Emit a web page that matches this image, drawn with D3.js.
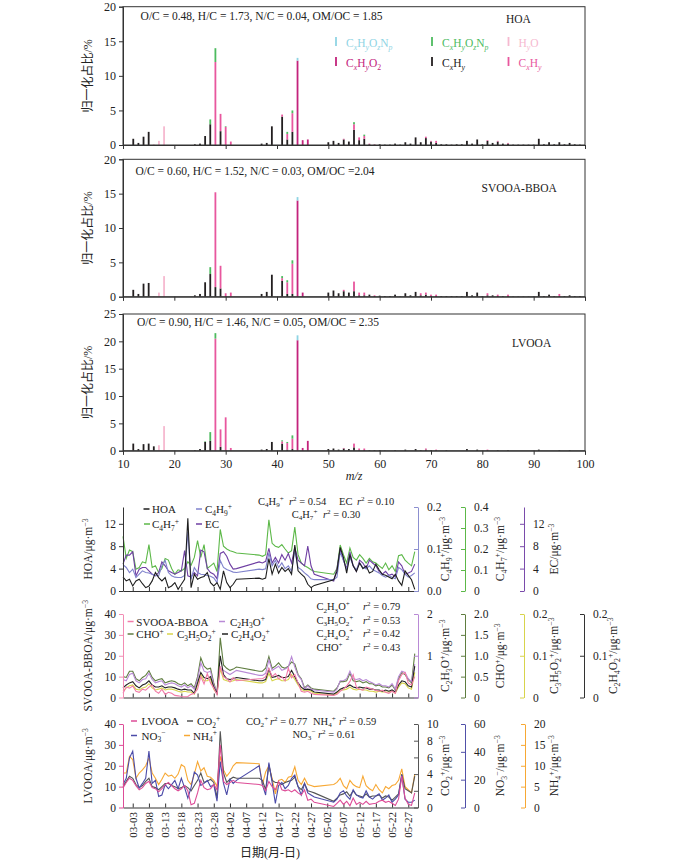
<!DOCTYPE html>
<html><head><meta charset="utf-8">
<script src="https://cdn.jsdelivr.net/npm/d3@7"></script>
<style>
body{margin:0;background:#fff}
svg{display:block;font-family:"Liberation Serif","Times New Roman","Noto Sans CJK SC",serif;}
</style>
</head><body><svg id="c" width="700" height="862"></svg>
<script>
// ---------------- DATA: mass spectra (m/z, CxHy, CxHyO, CxHyO2, HyO, green N family, cyan N family)
const specNames = ["HOA", "SVOOA-BBOA", "LVOOA"];
const specRatios = [
  "O/C = 0.48, H/C = 1.73, N/C = 0.04, OM/OC = 1.85",
  "O/C = 0.60, H/C = 1.52, N/C = 0.03, OM/OC =2.04",
  "O/C = 0.90, H/C = 1.46, N/C = 0.05, OM/OC = 2.35"
];
const specMax = [20, 20, 25];
const specTicks = [[0,5,10,15,20],[0,5,10,15,20],[0,5,10,15,20,25]];
const mzTicks = [10,20,30,40,50,60,70,80,90,100];
const famLabels = ["C_xH_y","C_xH_y","C_xH_yO_2","H_yO","C_xH_yO_zN_p","C_xH_yO_zN_p"];
const hoaSpec = [
 [12,0.9],[13,0.3],[14,1.2],[15,1.9],[16,0,0,0,0.1],[17,0,0,0,0.6],[18,0,0,0,2.7],[24,0.1],[25,0.2],[26,1.3],
 [27,3.0,0,0,0,0.7],[28,0,12.0,0,0,2.0],[29,2.0,2.5],[30,0,2.6,0,0,0.1],[31,0,0.5],[37,0.2],[38,0.3],[39,2.7],
 [41,4.1,0.3],[42,0.8,0.8,0,0,0.3],[43,1.9,2.7,0,0,0.4],[44,0,0,12.2,0,0,0.4],[45,0,0,0.7],[46,0,0,0.8],
 [50,0.4],[51,0.6],[52,0.3],[53,0.8,0.1],[54,0.5],[55,2.2,0.8,0,0,0.3],[56,0.7,0.4],[57,0.9,0.4,0,0,0.2],
 [58,0.1,0.1],[59,0.05,0.05],[60,0.1],[61,0.05],[62,0.05],[63,0.2],[64,0.05],[65,0.4],[66,0.2],[67,1.1],[68,0.4],
 [69,1.0,0.2],[70,0.5,0.1],[71,0.3,0.3],[72,0.1],[73,0.1],[74,0.05],[75,0.1],[76,0.1],[77,0.6],[78,0.2],[79,0.8],
 [80,0.1],[81,0.6,0.1],[82,0.3],[83,0.5,0.1],[84,0.2],[85,0.2,0.1],[86,0.05],[87,0.05],[88,0.05],[89,0.05],[90,0.05],
 [91,0.9],[92,0.1],[93,0.4],[94,0.1],[95,0.4],[96,0.1],[97,0.3],[98,0.1],[99,0.05]
];
const svooaSpec = [
 [12,1.0],[13,0.4],[14,1.9],[15,2.0],[16,0,0,0,0.1],[17,0,0,0,0.6],[18,0,0,0,3.0],[24,0.2],[25,0.4],[26,2.1],
 [27,3.3,0,0,0,1.0],[28,1.4,13.8],[29,1.2,3.3],[30,0,0.5],[31,0,0.6],[37,0.4],[38,0.7],[39,3.2],
 [41,2.3,0.4,0,0,0.3],[42,0.4,1.7,0,0,0.3],[43,0.4,4.4,0,0,0.5],[44,0,0,14.0,0,0,0.5],[45,0,0,0.6],
 [50,0.6],[51,0.9],[52,0.5],[53,0.8,0.2],[54,0.6],[55,0.8,1.4],[56,0.2,0.4],[57,0.2,0.4],[58,0.3],[59,0.1,0.1],
 [60,0.15],[61,0.1],[62,0.1],[63,0.3],[64,0.05],[65,0.5],[66,0.2],[67,0.7],[68,0.2,0.3],[69,0.3,0.3],[70,0.1,0.2],
 [71,0.1,0.2],[72,0.1],[73,0.1],[74,0.1],[75,0.1],[76,0.1],[77,0.7],[78,0.2],[79,0.6],[80,0.1],[81,0.2,0.3],[82,0.2],
 [83,0.1,0.2],[84,0.1],[85,0.1,0.2],[86,0.05],[87,0.05],[88,0.05],[89,0.05],[90,0.05],[91,0.7],[92,0.1],[93,0.3],
 [94,0.1],[95,0.1,0.3],[96,0.1],[97,0.2],[98,0.1],[99,0.1]
];
const lvooaSpec = [
 [12,1.3],[13,0.3],[14,1.2],[15,1.3],[16,0.8],[17,0,0,0,1.0],[18,0,0,0,4.5],[24,0.1],[25,0.3],[26,1.6,0,0,0,0.1],
 [27,1.8,0,0,0,1.6],[28,0,20.5,0,0,1.0],[29,0.7,3.2],[30,0,6.1],[31,0,0.5],[37,0.2],[38,0.3],[39,1.6],
 [41,1.3,0.4,0,0,0.2],[42,0.2,1.2,0,0,0.2],[43,0.3,1.9,0,0,0.6],[44,0,0,20.2,0,0,0.9],[45,0,0,0.5],[46,0,0,1.8],
 [50,0.3],[51,0.4],[52,0.2],[53,0.4,0.1],[54,0.3],[55,0.6,0.7],[56,0.1,0.3],[57,0.1,0.3],[58,0.1],[59,0.1],[60,0.1],
 [61,0.05],[63,0.1],[65,0.2],[67,0.3],[68,0.1],[69,0.2,0.2],[70,0.1],[71,0.1,0.1],[73,0.1],[77,0.3],[79,0.2],
 [81,0.1,0.1],[83,0.1],[85,0.1],[91,0.2],[95,0.1],[97,0.1]
];

// ---------------- DATA: time series
const dates = ["02-28",
 "03-01","03-02","03-03","03-04","03-05","03-06","03-07","03-08","03-09","03-10","03-11","03-12","03-13","03-14","03-15",
 "03-16","03-17","03-18","03-19","03-20","03-21","03-22","03-23","03-24","03-25","03-26","03-27","03-28","03-29","03-30","03-31",
 "04-01","04-02","04-03","04-04",
 "04-11","04-12","04-13","04-14","04-15","04-16","04-17","04-18","04-19","04-20","04-21","04-22","04-23","04-24","04-25","04-26","04-27","04-28",
 "05-04","05-05","05-06","05-07","05-08","05-09","05-10","05-11","05-12","05-13","05-14","05-15","05-16","05-17","05-18","05-19",
 "05-20","05-21","05-22","05-23","05-24","05-25","05-26","05-27","05-28","05-29"];
const dateTicks = ["03-03","03-08","03-13","03-18","03-23","03-28","04-02","04-07","04-12","04-17","04-22","04-27",
 "05-02","05-07","05-12","05-17","05-22","05-27"];

const hoa = [2.5,1.8,2.1,0.9,1.8,2.1,1.3,0.6,0.9,1.8,3.3,2.4,1.8,2.4,0.6,0.9,1.5,0.3,1.2,2.1,13.0,0.6,3.0,2.1,2.4,2.6,3.3,1.5,0.9,1.5,0.3,3.6,1.5,0.6,1.2,2.1,
 2.3,2.1,2.3,5.8,3.0,4.8,3.2,4.2,3.5,4.0,3.0,8.2,3.6,3.0,2.5,1.2,0.6,1.0,
 2.0,3.5,7.8,6.0,3.2,6.5,4.5,3.5,5.0,4.0,4.5,3.2,3.5,4.8,3.8,3.0,2.8,2.5,2.2,3.0,1.8,1.0,3.6,2.8,2.0,0.3];
const ec = [4.8,6.4,6.4,7.0,2.7,3.9,4.2,4.2,3.6,3.0,2.7,3.3,5.2,4.5,3.6,3.3,3.0,3.3,3.6,7.2,2.7,2.5,3.3,2.7,7.3,7.0,4.0,3.3,3.0,2.2,6.7,7.0,6.2,4.8,3.9,4.0,
 5.2,5.0,5.3,7.6,5.0,6.0,5.0,6.5,5.5,6.7,5.0,7.8,5.5,5.0,4.5,8.0,4.5,3.0,
 1.8,4.0,7.5,5.5,4.0,7.0,4.5,3.5,5.5,5.0,4.0,5.5,5.0,4.5,3.5,3.0,3.5,2.8,3.0,2.5,5.2,4.5,3.0,3.2,3.5,4.8];
const c4h9 = [0.063,0.056,0.044,0.052,0.032,0.040,0.048,0.044,0.043,0.040,0.037,0.036,0.060,0.073,0.044,0.036,0.033,0.032,0.032,0.037,0.141,0.028,0.056,0.044,0.040,0.039,0.037,0.035,0.031,0.020,0.073,0.056,0.051,0.048,0.045,0.044,
 0.052,0.051,0.053,0.091,0.060,0.073,0.056,0.067,0.053,0.060,0.047,0.096,0.056,0.051,0.043,0.037,0.029,0.027,
 0.027,0.033,0.093,0.073,0.051,0.080,0.060,0.051,0.067,0.056,0.053,0.060,0.051,0.047,0.043,0.037,0.033,0.037,0.033,0.029,0.056,0.051,0.040,0.033,0.037,0.043];
const c4h7 = [0.26,0.155,0.195,0.187,0.104,0.112,0.139,0.133,0.221,0.112,0.120,0.088,0.107,0.155,0.147,0.107,0.080,0.101,0.096,0.107,0.139,0.123,0.160,0.240,0.160,0.221,0.107,0.120,0.133,0.093,0.293,0.213,0.200,0.192,0.187,0.181,
 0.171,0.165,0.173,0.339,0.227,0.213,0.208,0.221,0.200,0.181,0.192,0.304,0.173,0.133,0.120,0.112,0.101,0.093,
 0.080,0.107,0.219,0.173,0.133,0.205,0.160,0.147,0.173,0.155,0.133,0.155,0.139,0.133,0.120,0.107,0.133,0.101,0.120,0.093,0.168,0.173,0.147,0.133,0.120,0.187];

const svooa = [2.0,5.0,4.5,5.5,3.0,2.5,4.0,3.5,5.0,6.0,3.0,2.0,4.0,1.5,2.5,2.0,1.0,0.8,0.5,0.3,0.5,1.5,2.0,4.0,10.0,6.5,11.5,7.0,4.5,1.3,15.0,10.0,9.0,7.5,9.5,8.0,
 9.0,9.0,10.0,14.0,10.0,11.5,9.0,10.0,8.0,14.0,9.5,11.0,7.0,3.0,2.5,3.0,2.0,1.5,
 1.0,1.5,3.0,4.0,5.5,7.7,11.0,5.0,4.0,3.5,5.0,4.5,4.0,3.5,3.0,3.5,2.5,2.0,3.0,2.0,8.0,11.0,12.0,7.0,6.0,10.0];
const c2h3o = [0.43,0.40,0.55,0.58,0.40,0.35,0.43,0.45,0.58,0.43,0.35,0.38,0.40,0.30,0.33,0.35,0.33,0.28,0.25,0.30,0.23,0.28,0.20,0.43,0.83,0.63,0.60,0.63,0.30,0.13,0.70,0.65,0.60,0.55,0.60,0.65,
 0.53,0.53,0.58,0.90,0.65,0.70,0.75,0.65,0.68,0.73,0.98,0.73,0.53,0.43,0.20,0.28,0.20,0.18,
 0.13,0.20,0.40,0.40,0.45,0.63,0.45,0.43,0.45,0.40,0.43,0.38,0.35,0.30,0.33,0.28,0.28,0.25,0.33,0.20,0.50,0.63,0.60,0.45,0.38,0.80];
const cho = [0.50,0.48,0.63,0.63,0.45,0.40,0.48,0.53,0.64,0.48,0.40,0.43,0.45,0.35,0.38,0.40,0.38,0.33,0.30,0.35,0.28,0.33,0.23,0.50,0.95,0.75,0.68,0.70,0.35,0.10,1.43,0.78,0.70,0.65,0.68,0.73,
 0.63,0.63,0.70,0.98,0.70,0.75,0.83,0.73,0.70,0.75,0.85,0.80,0.55,0.45,0.23,0.30,0.23,0.20,
 0.15,0.23,0.38,0.38,0.40,0.58,0.40,0.38,0.40,0.35,0.38,0.33,0.33,0.28,0.30,0.25,0.25,0.23,0.30,0.18,0.45,0.60,0.55,0.43,0.35,1.05];
const c3h5o2 = [0.015,0.023,0.028,0.030,0.020,0.018,0.023,0.025,0.033,0.023,0.018,0.020,0.023,0.018,0.020,0.020,0.018,0.015,0.013,0.015,0.013,0.013,0.008,0.030,0.055,0.040,0.040,0.045,0.020,0.009,0.070,0.043,0.040,0.038,0.040,0.043,
 0.035,0.035,0.038,0.058,0.040,0.043,0.045,0.040,0.040,0.043,0.055,0.043,0.030,0.020,0.015,0.018,0.015,0.010,
 0.006,0.010,0.018,0.018,0.020,0.025,0.020,0.018,0.020,0.018,0.018,0.015,0.015,0.013,0.015,0.013,0.013,0.013,0.015,0.010,0.025,0.035,0.033,0.023,0.020,0.060];
const c2h4o2 = [0.023,0.030,0.035,0.038,0.028,0.023,0.030,0.033,0.040,0.030,0.025,0.025,0.028,0.023,0.025,0.025,0.023,0.020,0.018,0.020,0.018,0.018,0.010,0.035,0.060,0.048,0.045,0.050,0.025,0.010,0.100,0.055,0.045,0.043,0.045,0.048,
 0.040,0.040,0.043,0.068,0.048,0.050,0.053,0.048,0.048,0.050,0.065,0.050,0.035,0.025,0.019,0.020,0.018,0.013,
 0.008,0.013,0.020,0.023,0.025,0.030,0.025,0.023,0.025,0.023,0.023,0.020,0.020,0.018,0.018,0.015,0.018,0.015,0.018,0.013,0.030,0.040,0.038,0.028,0.025,0.075];

const lvooa = [9.3,12.0,14.0,13.0,10.5,8.5,9.5,11.5,12.5,9.5,9.0,7.5,9.0,11.0,12.0,10.5,9.0,8.0,9.0,10.5,8.0,1.3,2.0,7.0,13.0,9.5,8.5,9.0,11.0,8.5,30.0,12.5,11.0,12.0,13.0,12.0,
 11.0,10.5,8.0,12.5,10.0,8.5,12.5,8.5,8.0,8.5,7.5,8.5,7.0,6.0,8.5,3.5,4.0,2.5,
 0.5,2.0,3.5,1.5,3.0,0.8,4.5,1.5,2.5,1.5,3.0,1.5,1.8,2.0,3.0,3.5,2.5,3.0,2.0,1.0,4.0,15.0,4.5,1.5,1.0,7.0];
const co2 = [2.5,3.13,3.75,3.5,2.75,2.38,2.63,3.13,3.5,2.5,2.38,2.13,2.5,2.88,2.88,2.63,2.5,2.25,2.38,2.63,2.38,2.0,2.63,3.25,4.13,3.0,3.13,3.38,3.0,1.13,9.13,4.13,3.0,3.38,3.63,3.5,
 3.5,3.25,2.13,5.13,3.25,3.0,3.0,2.75,3.0,3.13,3.25,3.63,2.5,2.13,2.88,2.0,1.88,1.75,
 0.75,1.13,1.5,1.63,1.88,1.38,2.0,1.5,1.38,1.25,1.63,1.25,1.38,1.38,1.5,1.13,1.38,1.25,0.88,1.25,1.63,4.0,2.25,2.0,1.75,3.75];
const no3 = [16.5,21,35.6,40.5,21,14,17.3,21,40.5,17.3,19.5,8,9,16.5,13.5,16.5,19.5,13.5,21,14.3,6.8,14.3,25.5,23.3,15.8,17.3,19.5,15,16.5,4.5,33,17.3,9,20.3,17.3,19.5,
 30,16.5,9,32.3,18,3,15.8,18,13.5,15.8,21,23.3,15,9,17.3,10.5,9,7.5,
 3.8,6,10.5,12,8.3,6,12.8,9,7.5,6.8,12,7.5,6,8.3,9.8,5.3,6.8,9,3.8,6,9,23.3,6,3.8,3.8,5.3];
const nh4 = [8.25,8.25,12.25,11.5,7,8.25,9,10,11.85,8.25,7,5.5,6.75,8.25,7.5,7.75,7,8,10.25,9.75,6.5,5.5,8,11,8.75,9.5,7.5,7.25,6.5,5,12.25,9,7.5,8.5,10,10.75,
 10.5,5.5,8.5,10,7,3.25,6.5,6.75,6,7.25,7.5,9.75,6.5,5.5,7,5.5,5.25,5,
 5.5,6,7,5.25,4.5,6.5,5.5,5,4.75,7.5,5.25,4.5,4,5.5,4.25,3.5,5,4.5,5.25,5.5,6.5,9.25,5,4.25,3.5,8];

// ---------------- helpers
const svg = d3.select("#c");
const famColors = ["#231f20", "#e8579e", "#c3237c", "#f6b9d0", "#4dbb5f", "#8fd4e4"];
function rich(t, s, fs) {
  const parts = []; let buf = "", i = 0;
  while (i < s.length) {
    const c = s[i];
    if (c === "_" || c === "^") {
      if (buf) { parts.push({t: buf, k: "n"}); buf = ""; }
      let content;
      if (s[i+1] === "{") { const j = s.indexOf("}", i); content = s.slice(i+2, j); i = j + 1; }
      else { content = s[i+1]; i += 2; }
      parts.push({t: content, k: c === "_" ? "sub" : "sup"});
    } else if (c === "*") {
      if (buf) { parts.push({t: buf, k: "n"}); buf = ""; }
      const j = s.indexOf("*", i + 1); parts.push({t: s.slice(i+1, j), k: "it"}); i = j + 1;
    } else { buf += c; i++; }
  }
  if (buf) parts.push({t: buf, k: "n"});
  let shift = 0;
  parts.forEach(p => {
    const ts = t.append("tspan").text(p.t);
    if (p.k === "sub" || p.k === "sup") {
      const d = p.k === "sub" ? 0.25 * fs : -0.38 * fs;
      ts.attr("dy", d - shift).attr("font-size", fs * 0.68);
      shift = d;
      if (/^[a-z]+$/.test(p.t)) ts.attr("font-style", "italic");
    } else {
      if (shift !== 0) ts.attr("dy", -shift);
      shift = 0;
      if (p.k === "it") ts.attr("font-style", "italic");
    }
  });
  return t;
}
function label(x, y, s, fs, opts = {}) {
  const t = svg.append("text").attr("x", x).attr("y", y).attr("font-size", fs)
    .attr("fill", opts.fill || "#222").attr("text-anchor", opts.anchor || "start");
  if (opts.rot) t.attr("transform", `rotate(-90,${x},${y})`);
  return rich(t, s, fs);
}
function styleAxis(g, color, fs) {
  g.selectAll("path.domain").attr("stroke", color);
  g.selectAll(".tick line").attr("stroke", color);
  g.selectAll(".tick text").attr("fill", "#222").attr("font-size", fs)
    .attr("font-family", '"Liberation Serif","Times New Roman",serif');
}

// ---------------- spectra panels
const specX = d3.scaleLinear().domain([10, 100]).range([123, 585]);
const specTop = [6.7, 159.3, 314];
const specBottom = [145, 296.7, 450.7];
const specRows = [hoaSpec, svooaSpec, lvooaSpec];
const nameX = [506, 481.5, 512], nameY = [23, 192, 347], ratioX = [140.6, 135.5, 137], ratioY = [19.5, 174.5, 325.5];
specRows.forEach((rows, k) => {
  const y = d3.scaleLinear().domain([0, specMax[k]]).range([specBottom[k], specTop[k]]);
  const g = svg.append("g");
  rows.forEach(r => {
    let acc = 0;
    for (let f = 0; f < 6; f++) {
      const v = r[f + 1] || 0;
      if (v > 0) {
        g.append("rect").attr("x", specX(r[0]) - 0.9).attr("width", 1.8)
          .attr("y", y(acc + v)).attr("height", y(acc) - y(acc + v)).attr("fill", famColors[f]);
        acc += v;
      }
    }
  });
  g.append("rect").attr("x", 123).attr("y", specTop[k]).attr("width", 585 - 123)
    .attr("height", specBottom[k] - specTop[k]).attr("fill", "none").attr("stroke", "#333").attr("stroke-width", 1);
  const ya = svg.append("g").attr("transform", "translate(123,0)")
    .call(d3.axisLeft(y).tickValues(specTicks[k]).tickSize(4).tickPadding(3));
  styleAxis(ya, "#333", 12);
  const xa = svg.append("g").attr("transform", `translate(0,${specBottom[k]})`)
    .call(d3.axisBottom(specX).tickValues(mzTicks).tickSize(4).tickPadding(5).tickFormat(k === 2 ? d3.format("d") : ""));
  styleAxis(xa, "#333", 12);
  svg.append("text").attr("x", ratioX[k]).attr("y", ratioY[k]).attr("font-size", 11.5).attr("fill", "#222").text(specRatios[k]);
  svg.append("text").attr("x", nameX[k]).attr("y", nameY[k]).attr("font-size", 11.5).attr("fill", "#222").text(specNames[k]);
  label(92, (specTop[k] + specBottom[k]) / 2, "归一化占比/%", 12, {rot: true, anchor: "middle"});
});
label(354, 480, "*m/z*", 12, {anchor: "middle"});
// spectra legend
const legCols = [336, 432, 508.5], legRows = [47, 67];
const legOrder = [[5, 0, 0], [4, 1, 0], [3, 2, 0], [2, 0, 1], [0, 1, 1], [1, 2, 1]];
legOrder.forEach(([f, c, r]) => {
  svg.append("rect").attr("x", legCols[c] - 0.9).attr("y", legRows[r] - 10).attr("width", 1.8).attr("height", 9).attr("fill", famColors[f]);
  label(legCols[c] + 10, legRows[r], famLabels[f], 11.5, {fill: famColors[f] === "#231f20" ? "#222" : famColors[f]});
});

// ---------------- time series panels
const parse = s => new Date(2019, +s.slice(0, 2) - 1, +s.slice(3));
const tsX = d3.scaleTime().domain([new Date(2019, 1, 28), new Date(2019, 4, 30)]).range([123, 418]);
const xs = dates.map(parse);
const tickDates = dateTicks.map(parse);
const NOTE = 10.5, LEG = 11;

function panel(cfg) {
  const {y0, y1} = cfg;
  const mkY = dom => d3.scaleLinear().domain(dom).range([y0, y1]);
  const left = mkY(cfg.left.domain);
  const xa = svg.append("g").attr("transform", `translate(0,${y0})`)
    .call(d3.axisBottom(tsX).tickValues(tickDates).tickSizeInner(-4).tickSizeOuter(0).tickFormat(""));
  styleAxis(xa, "#333", 10);
  cfg.series.forEach(s => {
    const sc = mkY(s.domain);
    svg.append("path").datum(s.data)
      .attr("d", d3.line().x((d, i) => tsX(xs[i])).y(d => sc(d)))
      .attr("fill", "none").attr("stroke", s.color).attr("stroke-width", 1.1);
  });
  const la = svg.append("g").attr("transform", "translate(123,0)")
    .call(d3.axisLeft(left).tickValues(cfg.left.ticks).tickSizeInner(4).tickSizeOuter(0).tickPadding(3));
  styleAxis(la, cfg.left.color, 11.5);
  label(92, (y0 + y1) / 2, cfg.left.title, 11.5, {rot: true, anchor: "middle"});
  cfg.rights.forEach(r => {
    const sc = mkY(r.domain);
    const ra = svg.append("g").attr("transform", `translate(${r.x},0)`)
      .call(d3.axisRight(sc).tickValues(r.ticks).tickSizeInner(-4).tickSizeOuter(0).tickPadding(9).tickFormat(r.fmt));
    styleAxis(ra, r.color, 11.5);
    label(r.tx, (y0 + y1) / 2, r.title, 11.5, {rot: true, anchor: "middle"});
  });
  cfg.legend.forEach(l => {
    svg.append("line").attr("x1", l.mx).attr("x2", l.mx + 6).attr("y1", l.y - 4).attr("y2", l.y - 4)
      .attr("stroke", l.color).attr("stroke-width", 1.5);
    label(l.tx, l.y, l.text, LEG);
  });
  cfg.notes.forEach(n => label(n.x, n.y, n.text, NOTE));
}
const f1 = d3.format(".1f"), fg = d => d === 0 ? "0" : d3.format(".1f")(d), fi = d3.format("d");
const UNIT = "/μg·m^{−3}";

panel({
  y0: 591, y1: 507,
  left: {domain: [0, 15], ticks: [0, 4, 8, 12], color: "#333", title: "HOA" + UNIT},
  series: [
    {data: c4h7, domain: [0, 0.4], color: "#5cb848"},
    {data: ec, domain: [0, 15], color: "#6f3fa3"},
    {data: c4h9, domain: [0, 0.2], color: "#7f82cc"},
    {data: hoa, domain: [0, 15], color: "#1e1e1e"}
  ],
  rights: [
    {x: 418, domain: [0, 0.2], ticks: [0, 0.1, 0.2], fmt: f1, color: "#8c8fd0", tx: 449, title: "C_4H_9^+" + UNIT},
    {x: 465, domain: [0, 0.4], ticks: [0, 0.1, 0.2, 0.3, 0.4], fmt: fg, color: "#5cb848", tx: 504, title: "C_4H_7^+" + UNIT},
    {x: 524, domain: [0, 15], ticks: [0, 4, 8, 12], fmt: fi, color: "#7a4bab", tx: 558, title: "EC" + UNIT}
  ],
  legend: [
    {mx: 143.5, tx: 152, y: 513, color: "#1e1e1e", text: "HOA"},
    {mx: 196, tx: 205, y: 513, color: "#7f82cc", text: "C_4H_9^+"},
    {mx: 144, tx: 152, y: 528, color: "#5cb848", text: "C_4H_7^+"},
    {mx: 196, tx: 205, y: 528, color: "#6f3fa3", text: "EC"}
  ],
  notes: [
    {x: 258, y: 504.5, text: "C_4H_9^+"}, {x: 289, y: 504.5, text: "*r*^2 = 0.54"},
    {x: 339, y: 504.5, text: "EC"}, {x: 357, y: 504.5, text: "*r*^2 = 0.10"},
    {x: 291.7, y: 517.5, text: "C_4H_7^+"}, {x: 323, y: 517.5, text: "*r*^2 = 0.30"}
  ]
});

panel({
  y0: 697.5, y1: 614,
  left: {domain: [0, 40], ticks: [0, 10, 20, 30, 40], color: "#f28cb4", title: "SVOOA-BBOA" + UNIT},
  series: [
    {data: cho, domain: [0, 2], color: "#5f7d40"},
    {data: c2h3o, domain: [0, 2], color: "#b98ad6"},
    {data: c3h5o2, domain: [0, 0.2], color: "#d8d44c"},
    {data: c2h4o2, domain: [0, 0.2], color: "#222"},
    {data: svooa, domain: [0, 40], color: "#f27ba9"}
  ],
  rights: [
    {x: 418, domain: [0, 2], ticks: [0, 1, 2], fmt: fi, color: "#b98ad6", tx: 449, title: "C_2H_3O^+" + UNIT},
    {x: 465, domain: [0, 2], ticks: [0, 0.5, 1, 1.5, 2], fmt: fg, color: "#5f7d40", tx: 504, title: "CHO^+" + UNIT},
    {x: 524, domain: [0, 0.2], ticks: [0, 0.1, 0.2], fmt: fg, color: "#d8d44c", tx: 558, title: "C_3H_5O_2^+" + UNIT},
    {x: 584, domain: [0, 0.2], ticks: [0, 0.1, 0.2], fmt: fg, color: "#333", tx: 617, title: "C_2H_4O_2^+" + UNIT}
  ],
  legend: [
    {mx: 127.6, tx: 136.3, y: 625.5, color: "#f27ba9", text: "SVOOA-BBOA"},
    {mx: 219, tx: 230, y: 625.5, color: "#b98ad6", text: "C_2H_3O^+"},
    {mx: 127.6, tx: 136.3, y: 638, color: "#5f7d40", text: "CHO^+"},
    {mx: 167, tx: 177, y: 638, color: "#d8d44c", text: "C_3H_5O_2^+"},
    {mx: 222, tx: 231, y: 638, color: "#222", text: "C_2H_4O_2^+"}
  ],
  notes: [
    {x: 316.4, y: 610, text: "C_2H_3O^+"}, {x: 363, y: 610, text: "*r*^2 = 0.79"},
    {x: 316.4, y: 623.7, text: "C_3H_5O_2^+"}, {x: 363, y: 623.7, text: "*r*^2 = 0.53"},
    {x: 316.4, y: 637.4, text: "C_2H_4O_2^+"}, {x: 363, y: 637.4, text: "*r*^2 = 0.42"},
    {x: 316.4, y: 651.1, text: "CHO^+"}, {x: 363, y: 651.1, text: "*r*^2 = 0.43"}
  ]
});

panel({
  y0: 807.5, y1: 724,
  left: {domain: [0, 40], ticks: [0, 10, 20, 30, 40], color: "#dd4c97", title: "LVOOA" + UNIT},
  series: [
    {data: nh4, domain: [0, 20], color: "#f7a834"},
    {data: co2, domain: [0, 10], color: "#555"},
    {data: no3, domain: [0, 60], color: "#4b4ba8"},
    {data: lvooa, domain: [0, 40], color: "#dd4c97"}
  ],
  rights: [
    {x: 418, domain: [0, 10], ticks: [0, 2, 4, 6, 8, 10], fmt: fi, color: "#555", tx: 449, title: "CO_2^+" + UNIT},
    {x: 465, domain: [0, 60], ticks: [0, 20, 40, 60], fmt: fi, color: "#5050a8", tx: 504, title: "NO_3^−" + UNIT},
    {x: 525, domain: [0, 20], ticks: [0, 5, 10, 15, 20], fmt: fi, color: "#f7a834", tx: 558, title: "NH_4^+" + UNIT}
  ],
  legend: [
    {mx: 131, tx: 141.5, y: 725, color: "#dd4c97", text: "LVOOA"},
    {mx: 187, tx: 197, y: 725, color: "#555", text: "CO_2^+"},
    {mx: 131, tx: 141.5, y: 739.5, color: "#4b4ba8", text: "NO_3^−"},
    {mx: 184, tx: 193, y: 739.5, color: "#f7a834", text: "NH_4^+"}
  ],
  notes: [
    {x: 246, y: 724.7, text: "CO_2^+"}, {x: 270, y: 724.7, text: "*r*^2 = 0.77"},
    {x: 313, y: 724.7, text: "NH_4^+"}, {x: 339, y: 724.7, text: "*r*^2 = 0.59"},
    {x: 292.5, y: 737.5, text: "NO_3^−"}, {x: 318, y: 737.5, text: "*r*^2 = 0.61"}
  ]
});
svg.append("g").selectAll("text").data(dateTicks).join("text")
  .attr("x", d => tsX(parse(d)) + 4).attr("y", 812)
  .attr("transform", d => `rotate(-90,${tsX(parse(d)) + 4},812)`)
  .attr("text-anchor", "end").attr("font-size", 11).attr("fill", "#222").text(d => d);
svg.append("text").attr("x", 270).attr("y", 857).attr("text-anchor", "middle").attr("font-size", 12)
  .attr("fill", "#222").text("日期(月-日)");
</script></body></html>
